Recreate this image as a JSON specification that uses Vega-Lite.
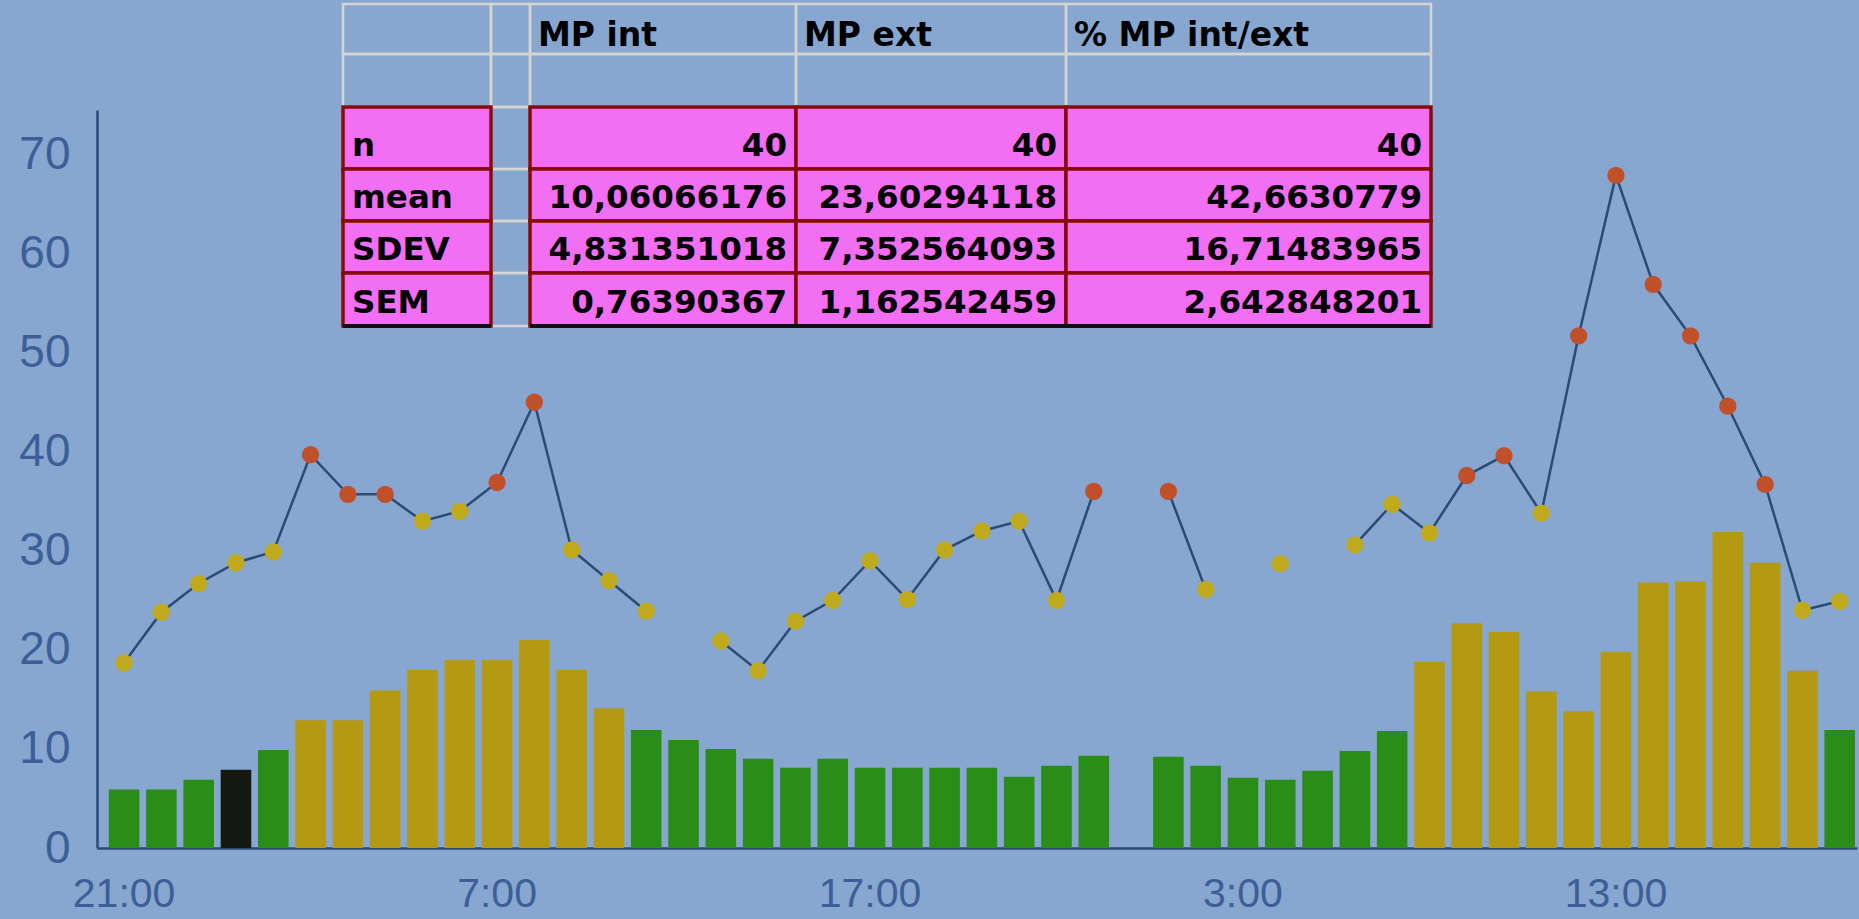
{
  "$schema": "https://vega.github.io/schema/vega-lite/v6.json",
  "width": 1760,
  "height": 738,
  "autosize": {"type": "none"},
  "padding": {"left": 97, "top": 110, "right": 2, "bottom": 71},
  "background": "#88a7d0",
  "config": {
    "view": {"stroke": null},
    "axis": {"labelFont": "Liberation Sans", "labelColor": "#3d5e96", "domainColor": "#2b4a7a", "domainWidth": 2.5, "ticks": false, "grid": false, "title": null},
    "axisY": {"labelFontSize": 46, "labelPadding": 27},
    "axisX": {"labelFontSize": 41, "labelPadding": 26, "labelAngle": 0}
  },
  "datasets": {
    "series": [
      {"slot": "d1 21:00", "bar": 5.9, "bc": "G", "line": 18.7, "pc": "Y"},
      {"slot": "d1 22:00", "bar": 5.9, "bc": "G", "line": 23.8, "pc": "Y"},
      {"slot": "d1 23:00", "bar": 6.9, "bc": "G", "line": 26.7, "pc": "Y"},
      {"slot": "d2 0:00", "bar": 7.9, "bc": "K", "line": 28.8, "pc": "Y"},
      {"slot": "d2 1:00", "bar": 9.9, "bc": "G", "line": 29.9, "pc": "Y"},
      {"slot": "d2 2:00", "bar": 12.9, "bc": "O", "line": 39.7, "pc": "R"},
      {"slot": "d2 3:00", "bar": 12.9, "bc": "O", "line": 35.7, "pc": "R"},
      {"slot": "d2 4:00", "bar": 15.9, "bc": "O", "line": 35.7, "pc": "R"},
      {"slot": "d2 5:00", "bar": 18.0, "bc": "O", "line": 33.0, "pc": "Y"},
      {"slot": "d2 6:00", "bar": 19.0, "bc": "O", "line": 34.0, "pc": "Y"},
      {"slot": "d2 7:00", "bar": 19.0, "bc": "O", "line": 36.9, "pc": "R"},
      {"slot": "d2 8:00", "bar": 21.0, "bc": "O", "line": 45.0, "pc": "R"},
      {"slot": "d2 9:00", "bar": 18.0, "bc": "O", "line": 30.1, "pc": "Y"},
      {"slot": "d2 10:00", "bar": 14.1, "bc": "O", "line": 27.0, "pc": "Y"},
      {"slot": "d2 11:00", "bar": 11.9, "bc": "G", "line": 23.9, "pc": "Y"},
      {"slot": "d2 12:00", "bar": 10.9, "bc": "G", "line": null, "pc": "Y"},
      {"slot": "d2 13:00", "bar": 10.0, "bc": "G", "line": 20.9, "pc": "Y"},
      {"slot": "d2 14:00", "bar": 9.0, "bc": "G", "line": 17.9, "pc": "Y"},
      {"slot": "d2 15:00", "bar": 8.1, "bc": "G", "line": 22.9, "pc": "Y"},
      {"slot": "d2 16:00", "bar": 9.0, "bc": "G", "line": 25.0, "pc": "Y"},
      {"slot": "d2 17:00", "bar": 8.1, "bc": "G", "line": 29.0, "pc": "Y"},
      {"slot": "d2 18:00", "bar": 8.1, "bc": "G", "line": 25.1, "pc": "Y"},
      {"slot": "d2 19:00", "bar": 8.1, "bc": "G", "line": 30.1, "pc": "Y"},
      {"slot": "d2 20:00", "bar": 8.1, "bc": "G", "line": 32.0, "pc": "Y"},
      {"slot": "d2 21:00", "bar": 7.2, "bc": "G", "line": 33.0, "pc": "Y"},
      {"slot": "d2 22:00", "bar": 8.3, "bc": "G", "line": 25.0, "pc": "Y"},
      {"slot": "d2 23:00", "bar": 9.3, "bc": "G", "line": 36.0, "pc": "R"},
      {"slot": "d3 0:00", "bar": null, "bc": "G", "line": null, "pc": "Y"},
      {"slot": "d3 1:00", "bar": 9.2, "bc": "G", "line": 36.0, "pc": "R"},
      {"slot": "d3 2:00", "bar": 8.3, "bc": "G", "line": 26.1, "pc": "Y"},
      {"slot": "d3 3:00", "bar": 7.1, "bc": "G", "line": null, "pc": "Y"},
      {"slot": "d3 4:00", "bar": 6.9, "bc": "G", "line": 28.7, "pc": "Y"},
      {"slot": "d3 5:00", "bar": 7.8, "bc": "G", "line": null, "pc": "Y"},
      {"slot": "d3 6:00", "bar": 9.8, "bc": "G", "line": 30.6, "pc": "Y"},
      {"slot": "d3 7:00", "bar": 11.8, "bc": "G", "line": 34.7, "pc": "Y"},
      {"slot": "d3 8:00", "bar": 18.8, "bc": "O", "line": 31.8, "pc": "Y"},
      {"slot": "d3 9:00", "bar": 22.7, "bc": "O", "line": 37.6, "pc": "R"},
      {"slot": "d3 10:00", "bar": 21.8, "bc": "O", "line": 39.6, "pc": "R"},
      {"slot": "d3 11:00", "bar": 15.8, "bc": "O", "line": 33.8, "pc": "Y"},
      {"slot": "d3 12:00", "bar": 13.8, "bc": "O", "line": 51.7, "pc": "R"},
      {"slot": "d3 13:00", "bar": 19.8, "bc": "O", "line": 67.9, "pc": "R"},
      {"slot": "d3 14:00", "bar": 26.8, "bc": "O", "line": 56.9, "pc": "R"},
      {"slot": "d3 15:00", "bar": 26.9, "bc": "O", "line": 51.7, "pc": "R"},
      {"slot": "d3 16:00", "bar": 31.9, "bc": "O", "line": 44.6, "pc": "R"},
      {"slot": "d3 17:00", "bar": 28.8, "bc": "O", "line": 36.7, "pc": "R"},
      {"slot": "d3 18:00", "bar": 17.9, "bc": "O", "line": 24.0, "pc": "Y"},
      {"slot": "d3 19:00", "bar": 11.9, "bc": "G", "line": 24.9, "pc": "Y"}
    ],
    "cells": [
      {"r0": 0, "r1": 1, "c0": 0, "c1": 1, "kind": "blank", "text": ""},
      {"r0": 0, "r1": 1, "c0": 1, "c1": 2, "kind": "blank", "text": ""},
      {"r0": 0, "r1": 1, "c0": 2, "c1": 3, "kind": "head", "text": "MP int"},
      {"r0": 0, "r1": 1, "c0": 3, "c1": 4, "kind": "head", "text": "MP ext"},
      {"r0": 0, "r1": 1, "c0": 4, "c1": 5, "kind": "head", "text": "% MP int/ext"},
      {"r0": 1, "r1": 2, "c0": 0, "c1": 1, "kind": "blank", "text": ""},
      {"r0": 1, "r1": 2, "c0": 1, "c1": 2, "kind": "blank", "text": ""},
      {"r0": 1, "r1": 2, "c0": 2, "c1": 3, "kind": "blank", "text": ""},
      {"r0": 1, "r1": 2, "c0": 3, "c1": 4, "kind": "blank", "text": ""},
      {"r0": 1, "r1": 2, "c0": 4, "c1": 5, "kind": "blank", "text": ""},
      {"r0": 2, "r1": 3, "c0": 0, "c1": 1, "kind": "label", "text": "n"},
      {"r0": 2, "r1": 3, "c0": 1, "c1": 2, "kind": "blank", "text": ""},
      {"r0": 2, "r1": 3, "c0": 2, "c1": 3, "kind": "num", "text": "40"},
      {"r0": 2, "r1": 3, "c0": 3, "c1": 4, "kind": "num", "text": "40"},
      {"r0": 2, "r1": 3, "c0": 4, "c1": 5, "kind": "num", "text": "40"},
      {"r0": 3, "r1": 4, "c0": 0, "c1": 1, "kind": "label", "text": "mean"},
      {"r0": 3, "r1": 4, "c0": 1, "c1": 2, "kind": "blank", "text": ""},
      {"r0": 3, "r1": 4, "c0": 2, "c1": 3, "kind": "num", "text": "10,06066176"},
      {"r0": 3, "r1": 4, "c0": 3, "c1": 4, "kind": "num", "text": "23,60294118"},
      {"r0": 3, "r1": 4, "c0": 4, "c1": 5, "kind": "num", "text": "42,6630779"},
      {"r0": 4, "r1": 5, "c0": 0, "c1": 1, "kind": "label", "text": "SDEV"},
      {"r0": 4, "r1": 5, "c0": 1, "c1": 2, "kind": "blank", "text": ""},
      {"r0": 4, "r1": 5, "c0": 2, "c1": 3, "kind": "num", "text": "4,831351018"},
      {"r0": 4, "r1": 5, "c0": 3, "c1": 4, "kind": "num", "text": "7,352564093"},
      {"r0": 4, "r1": 5, "c0": 4, "c1": 5, "kind": "num", "text": "16,71483965"},
      {"r0": 5, "r1": 6, "c0": 0, "c1": 1, "kind": "label", "text": "SEM"},
      {"r0": 5, "r1": 6, "c0": 1, "c1": 2, "kind": "blank", "text": ""},
      {"r0": 5, "r1": 6, "c0": 2, "c1": 3, "kind": "num", "text": "0,76390367"},
      {"r0": 5, "r1": 6, "c0": 3, "c1": 4, "kind": "num", "text": "1,162542459"},
      {"r0": 5, "r1": 6, "c0": 4, "c1": 5, "kind": "num", "text": "2,642848201"}
    ]
  },
  "layer": [
    {
      "data": {"name": "series"},
      "encoding": {
        "x": {
          "field": "slot",
          "type": "nominal",
          "sort": null,
          "scale": {
            "domain": ["d1 21:00","d1 22:00","d1 23:00","d2 0:00","d2 1:00","d2 2:00","d2 3:00","d2 4:00","d2 5:00","d2 6:00","d2 7:00","d2 8:00","d2 9:00","d2 10:00","d2 11:00","d2 12:00","d2 13:00","d2 14:00","d2 15:00","d2 16:00","d2 17:00","d2 18:00","d2 19:00","d2 20:00","d2 21:00","d2 22:00","d2 23:00","d3 0:00","d3 1:00","d3 2:00","d3 3:00","d3 4:00","d3 5:00","d3 6:00","d3 7:00","d3 8:00","d3 9:00","d3 10:00","d3 11:00","d3 12:00","d3 13:00","d3 14:00","d3 15:00","d3 16:00","d3 17:00","d3 18:00","d3 19:00"],
            "paddingInner": 0.18,
            "paddingOuter": 0.185,
            "align": 0.855
          },
          "axis": {
            "values": ["d1 21:00","d2 7:00","d2 17:00","d3 3:00","d3 13:00"],
            "labelExpr": "split(datum.label, ' ')[1]",
            "title": null
          }
        }
      },
      "layer": [
        {
          "mark": {"type": "bar"},
          "encoding": {
            "y": {"field": "bar", "type": "quantitative", "scale": {"domain": [0, 74.5], "nice": false}, "axis": {"values": [0,10,20,30,40,50,60,70], "title": null}},
            "color": {"field": "bc", "type": "nominal", "scale": {"domain": ["G","O","K"], "range": ["#2a8d18","#b39a12","#15190f"]}, "legend": null}
          }
        },
        {
          "mark": {"type": "line", "color": "#2b4a78", "strokeWidth": 2.5, "invalid": "break-paths-show-domains"},
          "encoding": {
            "y": {"field": "line", "type": "quantitative", "scale": {"domain": [0, 74.5], "nice": false}, "axis": {"title": null}}
          }
        },
        {
          "mark": {"type": "circle", "size": 300, "opacity": 1},
          "encoding": {
            "y": {"field": "line", "type": "quantitative", "scale": {"domain": [0, 74.5], "nice": false}, "axis": {"title": null}},
            "fill": {"field": "pc", "type": "nominal", "scale": {"domain": ["Y","R"], "range": ["#bfa91c","#c0502a"]}, "legend": null}
          }
        }
      ],
      "resolve": {"scale": {"color": "independent", "fill": "independent"}}
    },
    {
      "data": {"name": "cells"},
      "encoding": {
        "x": {"field": "c0", "type": "quantitative", "scale": {"domain": [0,1,2,3,4,5], "range": [246,394,433,699,969,1334], "nice": false, "zero": false}, "axis": null},
        "y": {"field": "r0", "type": "quantitative", "scale": {"domain": [0,1,2,3,4,5,6], "range": [-106,-56,-3,59,111,163,216], "nice": false, "zero": false}, "axis": null}
      },
      "layer": [
        {
          "mark": {"type": "rect", "fillOpacity": 0, "stroke": "#d4d4d4", "strokeWidth": 2.5},
          "encoding": {"x2": {"field": "c1"}, "y2": {"field": "r1"}}
        },
        {
          "transform": [{"filter": "datum.kind == 'label' || datum.kind == 'num'"}],
          "mark": {"type": "rect", "fill": "#f26ef2", "stroke": "#870a0a", "strokeWidth": 3.5},
          "encoding": {"x2": {"field": "c1"}, "y2": {"field": "r1"}}
        },
        {
          "transform": [{"filter": "datum.r0 == 5 && (datum.kind == 'label' || datum.kind == 'num')"}],
          "mark": {"type": "rule", "color": "#111111", "strokeWidth": 4},
          "encoding": {"x2": {"field": "c1"}, "y": {"field": "r1", "type": "quantitative"}}
        },
        {
          "transform": [{"filter": "datum.kind == 'head'"}],
          "mark": {"type": "text", "align": "left", "baseline": "alphabetic", "dx": 8, "dy": -8, "font": "DejaVu Sans", "fontWeight": "bold", "fontSize": 33, "color": "#000000"},
          "encoding": {"y": {"field": "r1", "type": "quantitative"}, "text": {"field": "text"}}
        },
        {
          "transform": [{"filter": "datum.kind == 'label'"}],
          "mark": {"type": "text", "align": "left", "baseline": "alphabetic", "dx": 9, "dy": -13, "font": "DejaVu Sans", "fontWeight": "bold", "fontSize": 32.5, "color": "#000000"},
          "encoding": {"y": {"field": "r1", "type": "quantitative"}, "text": {"field": "text"}}
        },
        {
          "transform": [{"filter": "datum.kind == 'num'"}],
          "mark": {"type": "text", "align": "right", "baseline": "alphabetic", "dx": -9, "dy": -13, "font": "DejaVu Sans", "fontWeight": "bold", "fontSize": 32.5, "color": "#000000"},
          "encoding": {"x": {"field": "c1", "type": "quantitative"}, "y": {"field": "r1", "type": "quantitative"}, "text": {"field": "text"}}
        }
      ]
    }
  ],
  "resolve": {"scale": {"x": "independent", "y": "independent"}}
}
